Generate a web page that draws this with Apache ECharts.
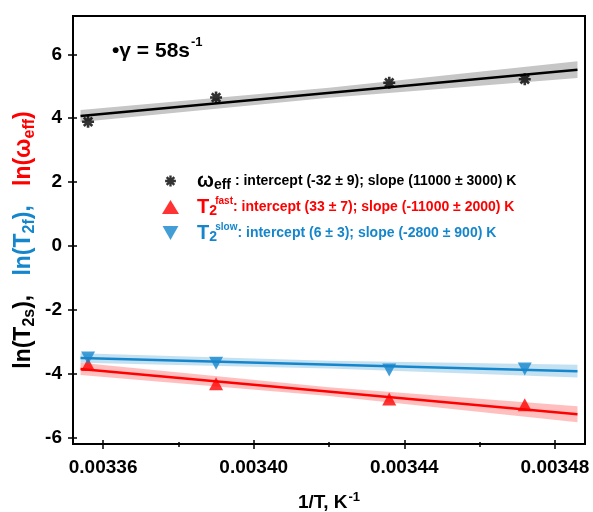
<!DOCTYPE html>
<html><head><meta charset="utf-8">
<script src="https://cdn.jsdelivr.net/npm/echarts@6/dist/echarts.min.js"></script>
<style>html,body{margin:0;padding:0;background:#fff}#c{width:593px;height:512px}</style>
</head><body><div id="c"></div>
<script>
// ---- data ----
const invT = [0.003356, 0.003390, 0.003436, 0.003472];
const lnOmegaEff = [3.89, 4.65, 5.11, 5.22];
const lnT2fast = [-3.71, -4.31, -4.79, -4.97];
const lnT2slow = [-3.51, -3.67, -3.88, -3.85];

const fitX = [0.003354, 0.003486];
const fitOmega = [4.07, 5.52];
const fitFast = [-3.85, -5.27];
const fitSlow = [-3.51, -3.92];

const bandX = [0.003354, 0.00342, 0.003486];
const omegaLo = [3.88, 4.64, 5.26];
const omegaHi = [4.26, 4.95, 5.78];
const fastLo = [-4.04, -4.70, -5.52];
const fastHi = [-3.66, -4.42, -5.02];
const slowLo = [-3.66, -3.835, -4.12];
const slowHi = [-3.36, -3.595, -3.72];

const xMajorTicks = [0.00336, 0.00340, 0.00344, 0.00348];
const xMinorTicks = [0.00338, 0.00342, 0.00346];
const yTicks = [-6, -4, -2, 0, 2, 4, 6];

const legendNames = ['ωeff', 'T2fast', 'T2slow'];
const legendTexts = [
  ': intercept (-32 ± 9); slope (11000 ± 3000) K',
  ': intercept (33 ± 7); slope (-11000 ± 2000) K',
  ': intercept (6 ± 3); slope (-2800 ± 900) K'
];

// ---- styling ----
const FF = 'Liberation Sans, Arial, sans-serif';
const RED = '#ff0000', BLUE = '#1586cc', BLACK = '#000000';
const XMIN = 0.003352, XMAX = 0.003488, YMIN = -6.2, YMAX = 7.2;

const ASTER = 'path://M-10,-2.2L10,-2.2L10,2.2L-10,2.2Z M-2.2,-10L2.2,-10L2.2,10L-2.2,10Z M-5.52,-8.63L8.63,5.52L5.52,8.63L-8.63,-5.52Z M-8.63,5.52L5.52,-8.63L8.63,-5.52L-5.52,8.63Z';
const ASTER_LEG = ASTER + ' M-13,-13L-12.9,-13L-13,-12.9Z M13,13L12.9,13L13,12.9Z';
const DOWN_TRI = 'path://M0,0L17,0L8.5,15Z';

function bandSeries(lo, hi, color) {
  return {
    type: 'custom', coordinateSystem: 'cartesian2d', silent: true, z: 1,
    data: bandX.map((x, i) => [x, lo[i], hi[i]]),
    renderItem: (params, api) => {
      if (params.dataIndex !== 0) return null;
      const pts = [];
      for (let i = 0; i < bandX.length; i++) pts.push(api.coord([bandX[i], hi[i]]));
      for (let i = bandX.length - 1; i >= 0; i--) pts.push(api.coord([bandX[i], lo[i]]));
      return { type: 'polygon', shape: { points: pts }, style: { fill: color } };
    }
  };
}
function fitSeries(ys, color) {
  return { type: 'line', silent: true, z: 2, symbol: 'none',
    data: fitX.map((x, i) => [x, ys[i]]),
    lineStyle: { color: color, width: 2.5 } };
}

function tok(color, size, lh, va, extra) {
  return Object.assign({ color: color, fontSize: size, fontWeight: 'bold', fontFamily: FF,
    lineHeight: lh, verticalAlign: va }, extra || {});
}
const legendRich = {
  kb: tok(BLACK, 20, 22, 'middle', { padding: [0, 0, 0, 13] }), ks: tok(BLACK, 14, 6, 'bottom'), kt: tok(BLACK, 14, 22, 'middle'),
  rb: tok(RED, 20, 22, 'middle', { padding: [0, 0, 0, 13] }), rs: tok(RED, 14, 12, 'bottom', { width: 6 }), rp: tok(RED, 10, 4, 'top'), rt: tok(RED, 14, 22, 'middle'),
  bb: tok(BLUE, 20, 22, 'middle', { padding: [0, 0, 0, 13] }), bs: tok(BLUE, 14, 12, 'bottom', { width: 6 }), bp: tok(BLUE, 10, 4, 'top'), bt: tok(BLUE, 14, 22, 'middle')
};
const legendFmt = {
  'ωeff': '{kb|ω}{ks|eff}{kt| ' + legendTexts[0] + '}',
  'T2fast': '{rb|T}{rs|2}{rp|fast}{rt|' + legendTexts[1] + '}',
  'T2slow': '{bb|T}{bs|2}{bp|slow}{bt|' + legendTexts[2] + '}'
};

function ylTok(color, size, lh, va) {
  return { fill: color, fontSize: size, fontWeight: 'bold', fontFamily: FF, lineHeight: lh, verticalAlign: va };
}

const tickLabelStyle = { color: '#000', fontSize: 19, fontWeight: 'bold', fontFamily: FF };

const chart = echarts.init(document.getElementById('c'), null, { renderer: 'canvas' });
chart.setOption({
  animation: false,
  backgroundColor: '#fff',
  grid: { left: 73, right: 8, top: 16, bottom: 68, show: true, borderColor: '#000', borderWidth: 2,
    containLabel: false, outerBoundsMode: 'none' },
  xAxis: [
    { type: 'value', min: XMIN, max: XMAX, position: 'bottom',
      axisLine: { onZero: false, lineStyle: { color: '#000', width: 2 } },
      axisTick: { customValues: xMajorTicks, length: 5, lineStyle: { color: '#000', width: 1.5 } },
      axisLabel: Object.assign({ customValues: xMajorTicks, margin: 14, formatter: v => v.toFixed(5) }, tickLabelStyle),
      splitLine: { show: false },
      name: '{a|1/T, K}{b|-1}', nameLocation: 'middle', nameGap: 47,
      nameTextStyle: { rich: {
        a: { color: '#000', fontSize: 19, fontWeight: 'bold', fontFamily: FF, lineHeight: 24, verticalAlign: 'middle' },
        b: { color: '#000', fontSize: 13, fontWeight: 'bold', fontFamily: FF, lineHeight: 6, verticalAlign: 'top', padding: [0, 0, 0, 1] } } } },
    { type: 'value', min: XMIN, max: XMAX, position: 'bottom', axisLine: { show: false, onZero: false },
      axisTick: { customValues: xMajorTicks, inside: true, length: 4, lineStyle: { color: '#000', width: 1.5 } },
      axisLabel: { show: false }, splitLine: { show: false } },
    { type: 'value', min: XMIN, max: XMAX, position: 'bottom', axisLine: { show: false, onZero: false },
      axisTick: { customValues: xMinorTicks, length: 3, lineStyle: { color: '#000', width: 1.5 } },
      axisLabel: { show: false }, splitLine: { show: false } },
    { type: 'value', min: XMIN, max: XMAX, position: 'bottom', axisLine: { show: false, onZero: false },
      axisTick: { customValues: xMinorTicks, inside: true, length: 2, lineStyle: { color: '#000', width: 1.5 } },
      axisLabel: { show: false }, splitLine: { show: false } }
  ],
  yAxis: [
    { type: 'value', min: YMIN, max: YMAX, position: 'left',
      axisLine: { show: true, onZero: false, lineStyle: { color: '#000', width: 2 } },
      axisTick: { show: true, customValues: yTicks, length: 5, lineStyle: { color: '#000', width: 1.5 } },
      axisLabel: Object.assign({ customValues: yTicks, margin: 11 }, tickLabelStyle),
      splitLine: { show: false } },
    { type: 'value', min: YMIN, max: YMAX, position: 'left', axisLine: { show: false, onZero: false },
      axisTick: { show: true, customValues: yTicks, inside: true, length: 4, lineStyle: { color: '#000', width: 1.5 } },
      axisLabel: { show: false }, splitLine: { show: false } }
  ],
  legend: {
    orient: 'vertical', left: 162, top: 171, padding: 0, itemWidth: 17, itemHeight: 14, itemGap: 4,
    selectedMode: false, symbolKeepAspect: true,
    data: [
      { name: legendNames[0], icon: ASTER_LEG },
      { name: legendNames[1], icon: 'triangle' },
      { name: legendNames[2], icon: DOWN_TRI }
    ],
    formatter: name => legendFmt[name],
    textStyle: { rich: legendRich }
  },
  graphic: [
    { type: 'text', x: 24, y: 240, rotation: Math.PI / 2, silent: true,
      style: {
        text: '{k|ln(T}{ks|2s}{k|),   }{b|ln(T}{bs|2f}{b|),   }{r|ln(ω}{rs|eff}{r|)}',
        align: 'center', verticalAlign: 'middle',
        rich: {
          k: ylTok(BLACK, 23, 28, 'middle'), ks: ylTok(BLACK, 16, 14, 'bottom'),
          b: ylTok(BLUE, 23, 28, 'middle'), bs: ylTok(BLUE, 16, 14, 'bottom'),
          r: ylTok(RED, 23, 28, 'middle'), rs: ylTok(RED, 16, 14, 'bottom')
        } } },
    { type: 'text', left: 112, top: 36, silent: true,
      style: {
        text: '{a|•γ = 58s}{b|-1}',
        rich: {
          a: { fill: '#000', fontSize: 21, fontWeight: 'bold', fontFamily: FF, lineHeight: 30, verticalAlign: 'middle' },
          b: { fill: '#000', fontSize: 13, fontWeight: 'bold', fontFamily: FF, lineHeight: 8, verticalAlign: 'top', padding: [0, 0, 0, 1] }
        } } }
  ],
  series: [
    bandSeries(omegaLo, omegaHi, '#c6c6c6'),
    bandSeries(fastLo, fastHi, 'rgba(255,0,0,0.25)'),
    bandSeries(slowLo, slowHi, 'rgba(21,134,204,0.25)'),
    fitSeries(fitOmega, BLACK),
    fitSeries(fitFast, RED),
    fitSeries(fitSlow, BLUE),
    { name: legendNames[0], type: 'scatter', z: 3, symbol: ASTER, symbolSize: 12,
      itemStyle: { color: BLACK }, data: invT.map((x, i) => [x, lnOmegaEff[i]]) },
    { name: legendNames[1], type: 'scatter', z: 3, symbol: 'triangle', symbolSize: [14, 13],
      itemStyle: { color: RED }, data: invT.map((x, i) => [x, lnT2fast[i]]) },
    { name: legendNames[2], type: 'scatter', z: 3, symbol: 'triangle', symbolRotate: 180, symbolSize: [14, 13],
      itemStyle: { color: BLUE }, data: invT.map((x, i) => [x, lnT2slow[i]]) }
  ]
});
</script>
</body></html>
